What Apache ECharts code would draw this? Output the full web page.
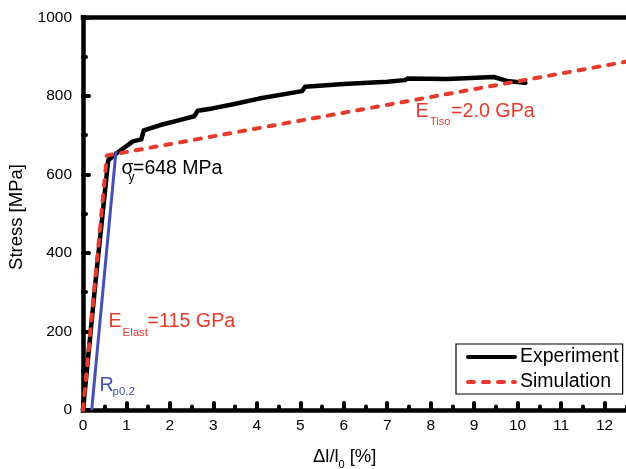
<!DOCTYPE html>
<html><head><meta charset="utf-8">
<script src="https://cdn.jsdelivr.net/npm/echarts@6/dist/echarts.min.js"></script>
<style>html,body{margin:0;padding:0;background:#fff;overflow:hidden}#c{width:651px;height:469px}</style>
</head><body><div id="c"></div>
<script>
// Experiment curve (strain %, stress MPa)
const expStrain = [0, 0.30, 0.58, 0.81, 1.15, 1.34, 1.40, 1.76, 2.22, 2.56, 2.64, 2.98, 3.51, 4.05, 5.04, 5.11, 6.0, 7.0, 7.40, 7.47, 8.39, 9.45, 9.76, 10.18];
const expStress = [0, 340, 636, 657, 684, 689, 712, 725, 738, 748, 762, 768, 780, 793, 812, 823, 830, 836, 840, 844, 843, 848, 838, 833];
// Simulation (bilinear)
const simStrain = [0, 0.55, 13];
const simStress = [0, 648, 897];
// Rp0.2 offset line
const rpStrain = [0.2, 0.76];
const rpStress = [0, 660];
const xTicks = [0,1,2,3,4,5,6,7,8,9,10,11,12];
const yTicks = [0,200,400,600,800,1000];

const FF = '"Liberation Sans", Arial, sans-serif';
const RED = '#e63a2c', BLUE = '#4650b4';
const zip = (a,b)=>a.map((v,i)=>[v,b[i]]);

function txt(x, base, t, f, color){
  return {type:'text', x:x, y: base - 0.24*f, silent:true,
    style:{text:t, fontSize:f, fontFamily:FF, fill:color, align:'left', verticalAlign:'middle'}};
}

const chart = echarts.init(document.getElementById('c'), null, {renderer:'canvas'});
const axisBase = {
  axisLine:{show:true, onZero:false, lineStyle:{color:'#000', width:4.5, cap:'square'}},
  splitLine:{show:false}
};
chart.setOption({
  animation:false,
  backgroundColor:'#fff',
  grid:{left:83, top:17.3, right:0, bottom:59},
  xAxis:[Object.assign({type:'value', min:0, max:13, interval:1, position:'bottom',
    axisTick:{show:true, inside:true, length:7, lineStyle:{color:'#000', width:4, cap:'round'}},
    minorTick:{show:true, splitNumber:2, length:3.5, lineStyle:{color:'#000', width:4, cap:'round'}},
    axisLabel:{fontSize:15.5, color:'#000', margin:8, fontFamily:FF,
      formatter:v=> xTicks.indexOf(v)>=0 ? String(v) : ''}
  }, axisBase),
  Object.assign({type:'value', min:0, max:13, position:'top', axisTick:{show:false}, axisLabel:{show:false}}, axisBase)],
  yAxis:[Object.assign({type:'value', min:0, max:1000, interval:200, position:'left',
    axisTick:{show:true, inside:true, length:6, lineStyle:{color:'#000', width:4, cap:'round'}},
    minorTick:{show:true, splitNumber:2, length:3, lineStyle:{color:'#000', width:4, cap:'round'}},
    axisLabel:{fontSize:15.5, color:'#000', margin:11, fontFamily:FF,
      formatter:v=> yTicks.indexOf(v)>=0 ? String(v) : ''}
  }, axisBase)],
  legend:{data:['Experiment','Simulation'], orient:'vertical', left:456, top:344,
    padding:[3,4,2,10], itemWidth:47, itemHeight:20, itemGap:5,
    borderColor:'#000', borderWidth:1.2, backgroundColor:'#fff',
    itemStyle:{opacity:0}, lineStyle:{width:4},
    textStyle:{fontSize:19.5, color:'#000', fontFamily:FF}},
  series:[
    {name:'Experiment', type:'line', data:zip(expStrain, expStress), symbol:'none', silent:true,
     lineStyle:{color:'#000', width:4.5, join:'round', cap:'round'}, itemStyle:{color:'#000'}, z:2},
    {name:'Simulation', type:'line', data:zip(simStrain, simStress), symbol:'none', silent:true,
     lineStyle:{color:RED, width:4, type:[6,9], cap:'round'}, itemStyle:{color:RED}, z:3},
    {name:'Rp', type:'line', data:zip(rpStrain, rpStress), symbol:'none', silent:true,
     lineStyle:{color:BLUE, width:3}, itemStyle:{color:BLUE}, z:4}
  ],
  graphic:[
    // sigma_y
    txt(121.5, 173.3, 'σ', 19.5, '#000'),
    txt(128.5, 181, 'y', 12, '#000'),
    txt(133, 173.3, '=648 MPa', 19.5, '#000'),
    // E_Tiso
    txt(415.5, 116.7, 'E', 19.7, RED),
    txt(430, 125, 'Tiso', 11, RED),
    txt(451, 116.7, '=2.0 GPa', 19.7, RED),
    // E_Elast
    txt(108.5, 326.7, 'E', 19.7, RED),
    txt(122.5, 336, 'Elast', 11.5, RED),
    txt(147.5, 326.7, '=115 GPa', 19.7, RED),
    // Rp0.2
    txt(99.5, 390, 'R', 19.7, BLUE),
    txt(112.5, 394.5, 'p0.2', 11.5, BLUE),
    // x-axis title
    txt(313, 461.7, 'Δl/l', 18.5, '#000'),
    txt(338.5, 468, '0', 11, '#000'),
    txt(344.5, 461.7, ' [%]', 18.5, '#000'),
    // y-axis title
    {type:'text', x:17, y:217, rotation:Math.PI/2, silent:true,
     style:{text:'Stress [MPa]', fontSize:18.5, fontFamily:FF, fill:'#000', align:'center', verticalAlign:'middle'}}
  ]
});
</script></body></html>
